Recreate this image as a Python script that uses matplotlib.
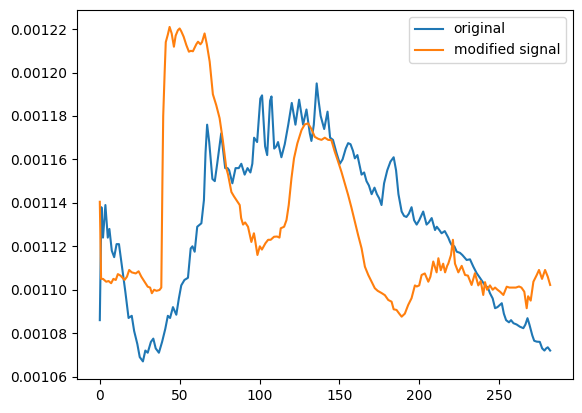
import matplotlib
matplotlib.use("Agg")
import matplotlib.pyplot as plt
import numpy as np

# values, in units of 1e-5
orig_x = [0, 1, 2, 3.5, 5, 6, 7.5, 9, 10.5, 12, 14, 16, 18, 20, 21.5, 23.5, 25, 27,
          28.5, 30, 32, 33.5, 35, 37, 39, 41, 42.6, 44, 45.8, 47.9, 49.5, 51, 53,
          55.2, 56.9, 58, 59.4, 61, 63.6, 65.2, 66.2, 67.2, 68.5, 70.5, 72, 73.5,
          76, 78.5, 80, 81, 83, 85, 87, 88.6, 90.7, 92.5, 94.3, 95.5, 96.6, 98.5,
          100.5, 101.6, 103.5, 104.8, 106.6, 107.5, 109.2, 110.5, 111.6, 113.7,
          115.8, 118, 120.2, 122.5, 124.8, 127.3, 129.4, 131.5, 132.5, 134, 135.8,
          137, 138.3, 140.5, 142.6, 144.2, 146, 148.2, 150.3, 152, 154, 155.5, 157,
          158.5, 159.7, 161.3, 163.9, 165.5, 167, 168.5, 170.2, 172, 173.5, 175,
          176.4, 178, 180, 182, 184, 185.5, 187, 189, 190.5, 192, 193.5, 195.2,
          196.8, 198.4, 200, 202.5, 204.6, 206, 207.8, 209.9, 211, 212.6, 214, 216,
          218.2, 219.3, 220.3, 222, 223.5, 225.5, 227, 229.7, 231.8, 233.9, 236,
          238, 241.2, 243, 244.3, 246, 247.5, 249, 251.7, 253, 254.4, 256.2, 257.5,
          259, 261, 263, 265.2, 266.5, 267.8, 269, 270.8, 272, 273.6, 275.5, 277,
          278.4, 279.5, 280.5, 282]
orig_y = [108.6, 113.8, 112.4, 113.9, 112.4, 112.8, 111.8, 111.5, 112.1, 112.1, 111.0,
          109.9, 108.7, 108.8, 108.1, 107.5, 106.9, 106.7, 107.2, 107.1, 107.6, 107.75,
          107.3, 107.1, 107.6, 108.2, 108.8, 108.7, 109.2, 108.85, 109.6, 110.2, 110.45,
          110.55, 111.9, 112.0, 111.75, 112.9, 113.06, 114.13, 116.3, 117.6, 116.8,
          115.1, 115.0, 115.8, 117.2, 115.6, 115.6, 115.5, 114.9, 115.6, 115.6, 115.8,
          115.3, 115.6, 115.4, 115.8, 117.0, 116.8, 118.8, 118.95, 116.6, 116.2, 118.7,
          118.9, 116.5, 116.6, 116.8, 116.1, 116.7, 117.6, 118.6, 117.6, 118.75, 117.6,
          118.3, 117.2, 116.85, 117.6, 119.5, 118.7, 118.0, 117.4, 118.2, 117.0, 116.9,
          116.3, 115.8, 116.0, 116.5, 116.75, 116.7, 116.4, 116.05, 116.2, 115.3, 115.4,
          115.0, 114.8, 114.4, 114.7, 114.4, 114.2, 113.9, 114.9, 115.5, 115.9, 116.1,
          115.5, 114.4, 113.6, 113.4, 113.35, 113.5, 113.8, 113.2, 113.0, 113.2, 113.6,
          113.0, 113.1, 113.3, 112.75, 112.9, 112.75, 112.6, 112.7, 112.4, 112.2, 112.06,
          112.0, 111.75, 111.7, 111.6, 111.37, 111.4, 111.06, 110.76, 110.55, 110.2,
          110.1, 109.84, 109.6, 109.15, 109.2, 109.38, 108.9, 108.6, 108.5, 108.6,
          108.46, 108.4, 108.3, 108.23, 108.4, 108.69, 108.4, 107.9, 107.65, 107.61,
          107.6, 107.3, 107.2, 107.3, 107.35, 107.2]

mod_x = [0, 0.8, 2, 4, 5.5, 7.1, 8.5, 10, 11.3, 13, 15.5, 17, 18.4, 20, 22.5, 24.3, 26,
         28, 30, 31.5, 32.6, 34, 35.5, 37.4, 38.5, 39.2, 39.7, 40.6, 41.3, 42.6, 43.7,
         45, 46.4, 47.5, 48.9, 50, 51, 52.5, 54.2, 55.8, 57, 58.3, 60.4, 61.5, 63, 64,
         65.6, 67, 68.8, 70.8, 72.9, 75, 77, 79.2, 80.3, 82.4, 84, 85.5, 87.6, 88.5,
         89.7, 91, 92.8, 94.9, 96.5, 97, 98.7, 100.2, 101.5, 103.7, 105.4, 107, 109.1,
         111, 112.5, 113.3, 115.4, 116.9, 118.3, 120, 121.6, 123.7, 126.3, 128.3, 130.4,
         132.5, 134.6, 136.7, 138.8, 140.9, 143, 145, 147.1, 149, 151.3, 153, 155.5,
         157.5, 159.7, 161.8, 163.9, 166, 168.1, 170, 172.2, 174, 176.4, 178.5, 180.6,
         182.7, 184, 185.8, 187.5, 189, 191, 193.1, 195.2, 197.3, 198.5, 200, 201.5,
         203.5, 205.7, 207, 208.8, 210.9, 212, 213.5, 215, 216.2, 217.5, 218.2, 219.9,
         221.1, 222.4, 224.5, 226.6, 228.7, 230.5, 232.8, 234.9, 237, 238.5, 240.1,
         241.2, 242.5, 244.3, 246, 247.5, 249, 250.6, 252.7, 254.8, 256.5, 258.5, 260.5,
         262.5, 264, 265.8, 267.3, 268.2, 269.8, 271.5, 273.6, 275, 276.9, 278.8, 280.5,
         282]
mod_y = [114.05, 110.5, 110.5, 110.37, 110.4, 110.3, 110.5, 110.45, 110.72, 110.65,
         110.45, 110.6, 110.91, 110.8, 110.75, 110.85, 110.6, 110.37, 110.14, 110.1,
         109.84, 110.0, 109.95, 109.99, 110.1, 115.0, 118.0, 120.0, 121.4, 121.75, 122.1,
         121.8, 121.19, 121.7, 121.95, 122.03, 121.9, 121.65, 121.26, 120.96, 121.0,
         120.98, 121.3, 121.42, 121.3, 121.4, 121.8, 121.3, 120.5, 119.0, 118.5, 117.9,
         116.9, 115.6, 115.3, 114.5, 114.3, 114.13, 113.9, 113.3, 113.0, 113.1, 112.9,
         112.2, 112.6, 112.4, 111.6, 112.0, 111.85, 112.14, 112.3, 112.3, 112.44, 112.45,
         112.4, 112.83, 112.9, 113.21, 113.9, 115.13, 116.05, 116.74, 117.35, 117.61,
         117.66, 117.4, 117.04, 116.95, 116.9, 117.0, 116.9, 116.89, 116.36, 115.95,
         115.43, 115.0, 114.36, 113.8, 113.13, 112.5, 111.91, 111.06, 110.68, 110.4,
         110.07, 109.95, 109.85, 109.75, 109.53, 109.45, 109.1, 109.07, 108.9, 108.76,
         108.9, 109.3, 109.61, 110.2, 110.15, 110.2, 110.68, 110.75, 110.37, 110.6,
         111.3, 110.8, 111.45, 110.9, 111.2, 110.8, 111.1, 111.2, 111.6, 112.3, 111.2,
         110.8, 111.1, 110.68, 110.65, 110.22, 110.76, 110.2, 110.4, 109.76, 110.35,
         110.0, 110.2, 110.0, 110.1, 110.0, 109.91, 109.76, 110.14, 110.1, 110.1, 110.1,
         110.15, 110.1, 109.91, 109.15, 109.7, 109.5, 110.37, 110.68, 110.91, 110.5,
         110.91, 110.6, 110.22]

orig_y = np.array(orig_y) * 1e-5
mod_y = np.array(mod_y) * 1e-5

fig, ax = plt.subplots(figsize=(5.82, 4.13), dpi=100)
fig.subplots_adjust(left=0.1328, right=0.984, bottom=0.0823, top=0.9758)

ax.plot(orig_x, orig_y, label="original")
ax.plot(mod_x, mod_y, label="modified signal")
ax.set_ylim(0.0010589, 0.0012288)
ax.ticklabel_format(axis="y", useOffset=False, style="plain")
ax.legend(loc="upper right")

fig.savefig("out.png", dpi=100)
